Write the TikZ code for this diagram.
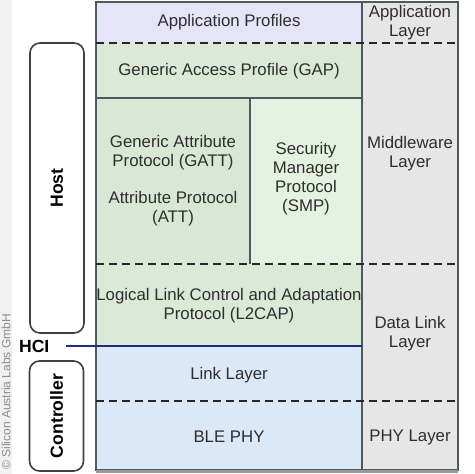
\documentclass[tikz,border=0pt]{standalone}
\usepackage{fontspec}
\setmainfont{Liberation Sans}
\usetikzlibrary{positioning}

\definecolor{appfill}{HTML}{E6E4F8}
\definecolor{gapfill}{HTML}{DBE9D7}
\definecolor{gattfill}{HTML}{D9E8D5}
\definecolor{smpfill}{HTML}{E4F3E1}
\definecolor{linkfill}{HTML}{DAE8F7}
\definecolor{layerfill}{HTML}{E6E6E6}
\definecolor{framegray}{HTML}{4E5A5E}
\definecolor{textgray}{HTML}{2E2E2E}
\definecolor{hciblue}{HTML}{1F2A8C}
\definecolor{stripgray}{HTML}{F1F1F1}

\begin{document}
\begin{tikzpicture}[x=0.5pt,y=-0.5pt]

	\tikzstyle frame lines=[color=framegray,line width=0.8pt];
	\tikzstyle layer dashes=[color=black!85,dash pattern=on 4pt off 2.5pt,line width=1.3pt];
	\tikzstyle layer text=[align=center,text=textgray,font=\fontsize{8.4}{9.5}\selectfont];
	\tikzstyle side box=[draw=black!75,line width=0.8pt,rounded corners=5pt,rotate=90,minimum height=27pt];
	\tikzstyle side text=[text=black,font=\bfseries\fontsize{8.8}{10}\selectfont];

	\useasboundingbox (0,0) rectangle (474,474);
	\fill[white] (0,0) rectangle (474,474);
	\fill[stripgray] (0,0) rectangle (12,474);
	\node[rotate=90,text=black!45,font=\fontsize{6}{7}\selectfont,inner sep=0pt] (credit) at (6,392) {\textcopyright{} Silicon Austria Labs GmbH};

	% stack fills
	\fill[appfill] (96,2) rectangle (362,43);
	\fill[gapfill] (96,43) rectangle (362,98);
	\fill[gattfill] (96,98) rectangle (250,264);
	\fill[smpfill] (250,98) rectangle (362,264);
	\fill[gapfill] (96,264) rectangle (362,346);
	\fill[linkfill] (96,346) rectangle (362,470);
	\fill[layerfill] (362,2) rectangle (458,470);

	% solid borders
	\draw[frame lines] (96,98) -- (362,98);
	\draw[frame lines] (250,98) -- (250,264);
	\draw[frame lines] (362,2) -- (362,470);
	\draw[frame lines] (96,2) rectangle (458,470);
	\draw[color=black!40,line width=1.2pt] (96,471.5) -- (458,471.5);

	% dashed borders
	\foreach \y in {43,264,401}
		\draw[layer dashes] (96,\y) -- (458,\y);

	% stack texts
	\node[layer text] (app) at (229,22) {Application Profiles};
	\node[layer text] (gap) at (229,71) {Generic Access Profile (GAP)};
	\node[layer text] (gatt) at (173,181) {Generic Attribute\\Protocol (GATT)\\[9pt]Attribute Protocol\\(ATT)};
	\node[layer text] (smp) at (306,179) {Security\\Manager\\Protocol\\(SMP)};
	\node[layer text] (l2cap) at (229,306) {Logical Link Control and Adaptation\\Protocol (L2CAP)};
	\node[layer text] (link) at (229,375) {Link Layer};
	\node[layer text] (phy) at (229,437) {BLE PHY};

	% layer texts
	\node[layer text] (applayer) at (410,23) {Application\\Layer};
	\node[layer text] (midlayer) at (410,154) {Middleware\\Layer};
	\node[layer text] (datalayer) at (410,334) {Data Link\\Layer};
	\node[layer text] (phylayer) at (410,437) {PHY Layer};

	% host / controller
	\node[side box,side text,minimum width=145pt] (host) at (57,188) {Host};
	\node[side box,side text,minimum width=55pt] (controller) at (56.5,416) {Controller};
	\node[side text,anchor=west] (hci) at (12,346) {HCI};
	\coordinate (hciend) at (362,346);
	\draw[color=hciblue,line width=0.9pt] (hci.east) ++(10,0) -- (hciend);

\end{tikzpicture}
\end{document}
